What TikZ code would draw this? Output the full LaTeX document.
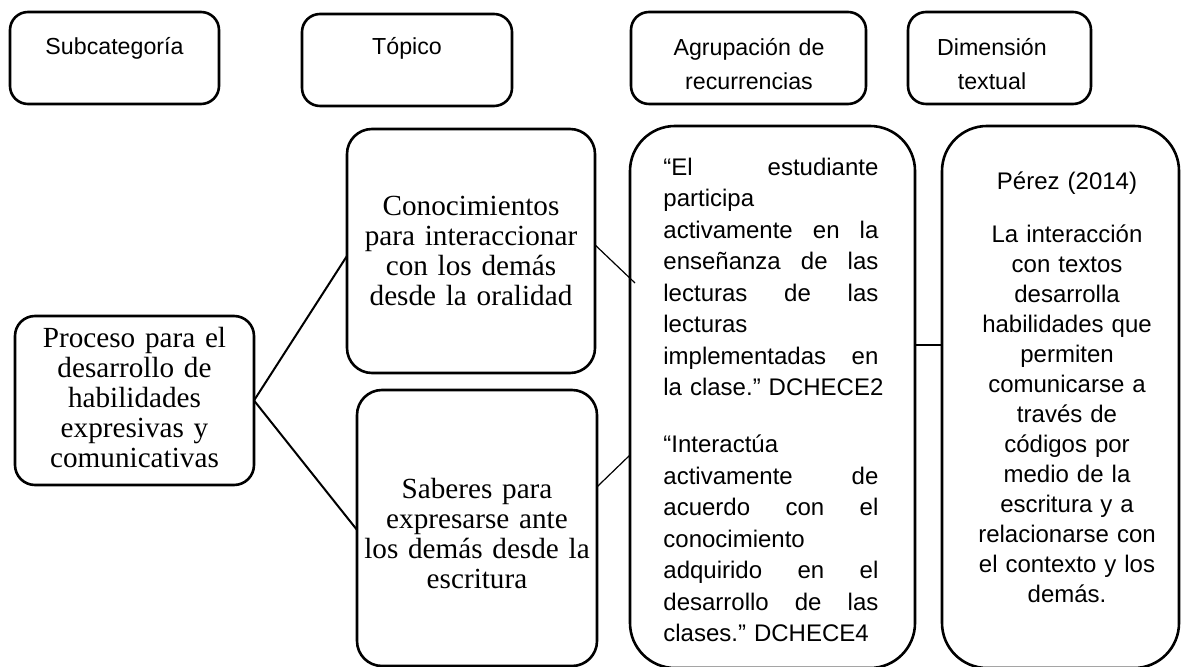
\documentclass[tikz,border=0pt]{standalone}
\usepackage{fontspec}
\setmainfont{Liberation Serif}
\newfontfamily\arialf{Liberation Sans}
\usetikzlibrary{calc}
\frenchspacing
\newcommand\jline[1]{\leavevmode\hbox to 107.5pt{#1}}
\begin{document}
\begin{tikzpicture}[x=0.5pt,y=-0.5pt,
  box/.style={draw, line width=1.3pt, inner sep=0pt, outer sep=0pt},
  connthick/.style={line width=1pt},
  connthin/.style={line width=0.6pt},
  hdrtext/.style={font=\arialf\fontsize{11.6}{17}\selectfont, align=center, text width=115pt, inner sep=0pt, anchor=base},
  sertext/.style={font=\fontsize{14.6}{15}\selectfont, align=center, text width=125pt, inner sep=0pt, anchor=base},
  agrtext/.style={font=\arialf\fontsize{12}{15.75}\selectfont, align=left, text width=115pt, inner sep=0pt, anchor=base west},
  dimtext/.style={font=\arialf\fontsize{12}{15}\selectfont, align=center, text width=115pt, inner sep=0pt, anchor=base}
]
\useasboundingbox (0,0) rectangle (1181,667);

% header boxes
\node[box, rounded corners=9pt, minimum width=104.5pt, minimum height=46pt] (hsub) at (114.5,58) {};
\node[box, rounded corners=9pt, minimum width=105pt, minimum height=46pt] (htop) at (407,60) {};
\node[box, rounded corners=9pt, minimum width=117.5pt, minimum height=46pt] (hagr) at (748.5,58) {};
\node[box, rounded corners=9pt, minimum width=91.5pt, minimum height=46pt] (hdim) at (999.5,58) {};

\node[hdrtext] (hsubt) at (114.5,54.5) {Subcategoría};
\node[hdrtext] (htopt) at (407,54.5) {Tópico};
\node[hdrtext] (hagrt) at (749,55.5) {Agrupación de\\recurrencias};
\node[hdrtext] (hdimt) at (992,55.5) {Dimensión\\textual};

% content boxes
\node[box, rounded corners=10pt, minimum width=119.5pt, minimum height=84.5pt] (proc) at (134.5,400.5) {};
\node[box, rounded corners=12.5pt, minimum width=124pt, minimum height=122pt] (conoc) at (471,251) {};
\node[box, rounded corners=12.5pt, minimum width=120pt, minimum height=138pt] (saber) at (477,528) {};
\node[box, rounded corners=22.5pt, minimum width=142.5pt, minimum height=271pt] (agr) at (772.5,397) {};
\node[box, rounded corners=22.5pt, minimum width=118.5pt, minimum height=271pt] (dim) at (1060.5,397) {};

% texts
\node[sertext] (proct) at (134.5,348) {Proceso para el\\desarrollo de\\habilidades\\expresivas y\\comunicativas};
\node[sertext] (conoct) at (471,216) {Conocimientos\\para interaccionar\\con los demás\\desde la oralidad};
\node[sertext] (sabert) at (477,498) {Saberes para\\expresarse ante\\los demás desde la\\escritura};

\node[agrtext] (agrt) at (663,175.5) {%
\jline{“El\hfill estudiante}\\
participa\\
\jline{activamente\hfill en\hfill la}\\
\jline{enseñanza\hfill de\hfill las}\\
\jline{lecturas\hfill de\hfill las}\\
lecturas\\
\jline{implementadas\hfill en}\\
\mbox{la clase.” DCHECE2}\\[12.75pt]
“Interactúa\\
\jline{activamente\hfill de}\\
\jline{acuerdo\hfill con\hfill el}\\
conocimiento\\
\jline{adquirido\hfill en\hfill el}\\
\jline{desarrollo\hfill de\hfill las}\\
\mbox{clases.” DCHECE4}};

\node[dimtext] (dimt) at (1067,189.5) {Pérez (2014)\\[11.5pt]
La interacción\\con textos\\desarrolla\\habilidades que\\permiten\\comunicarse a\\través de\\códigos por\\medio de la\\escritura y a\\relacionarse con\\el contexto y los\\demás.};

% connectors
\draw[connthick] (proc.east) -- ($(conoc.north west)!0.52!(conoc.south west)$);
\draw[connthick] (proc.east) -- ($(saber.north west)!0.507!(saber.south west)$);
\coordinate (agrin) at (635,283);
\draw[connthin] ($(conoc.north east)!0.475!(conoc.south east)$) -- (agrin);
\draw[connthin] ($(saber.north east)!0.351!(saber.south east)$) -- ($(agr.north west)!0.607!(agr.south west)$);
\draw[connthin] ($(agr.north east)!0.404!(agr.south east)$) -- ($(dim.north west)!0.404!(dim.south west)$);
\end{tikzpicture}
\end{document}
